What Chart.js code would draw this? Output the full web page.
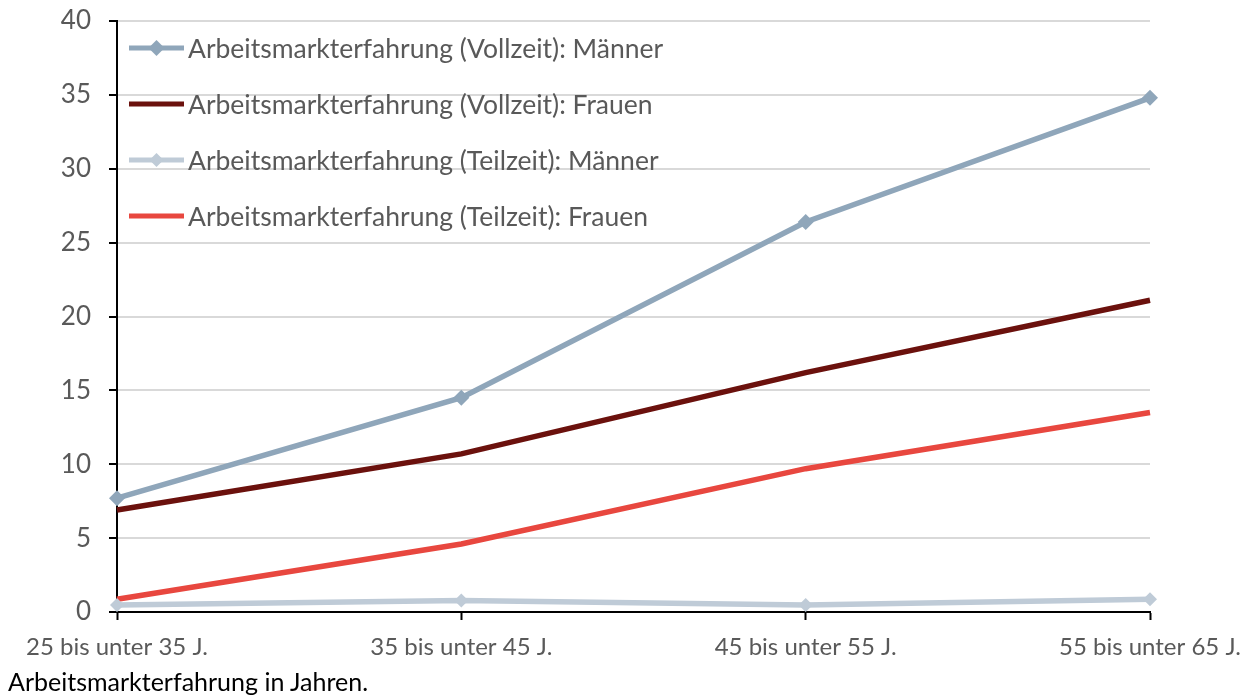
<!DOCTYPE html>
<html>
<head>
<meta charset="utf-8">
<script src="https://cdn.jsdelivr.net/npm/chart.js@4.4.1/dist/chart.umd.min.js"></script>
<style>
  html, body { margin: 0; padding: 0; background: #fff; }
  #wrap { position: relative; width: 1254px; height: 697px; }
  #caption { position: absolute; left: 8px; top: 666px; font: 25px Lato, sans-serif; color: #000; }
</style>
</head>
<body>
<div id="wrap">
  <canvas id="lineChart" width="1254" height="697"></canvas>
  <div id="caption">Arbeitsmarkterfahrung in Jahren.</div>
</div>
<script>
const categories = ['25 bis unter 35 J.', '35 bis unter 45 J.', '45 bis unter 55 J.', '55 bis unter 65 J.'];
const seriesNames = [
  'Arbeitsmarkterfahrung (Vollzeit): Männer',
  'Arbeitsmarkterfahrung (Vollzeit): Frauen',
  'Arbeitsmarkterfahrung (Teilzeit): Männer',
  'Arbeitsmarkterfahrung (Teilzeit): Frauen'
];
const vollzeitMaenner = [7.7, 14.5, 26.4, 34.8];
const vollzeitFrauen  = [6.9, 10.7, 16.2, 21.1];
const teilzeitMaenner = [0.47, 0.78, 0.47, 0.87];
const teilzeitFrauen  = [0.86, 4.6, 9.7, 13.5];
const yTicks = [0, 5, 10, 15, 20, 25, 30, 35, 40];

const FONT = 'Lato, sans-serif';
const GREY = '#595959';

// legend drawn inside the plot area, line + marker like the original
const innerLegend = {
  id: 'innerLegend',
  afterDatasetsDraw(chart) {
    const ctx = chart.ctx;
    const x0 = chart.chartArea.left + 12, x1 = x0 + 55;
    ctx.save();
    ctx.font = '26.5px ' + FONT;
    ctx.textBaseline = 'middle';
    chart.data.datasets.forEach((ds, i) => {
      const y = 48 + i * 56;
      ctx.strokeStyle = ds.borderColor;
      ctx.lineWidth = 5;
      ctx.beginPath(); ctx.moveTo(x0, y); ctx.lineTo(x1, y); ctx.stroke();
      if (ds.pointRadius > 0) {
        const r = ds.pointRadius, cx = (x0 + x1) / 2;
        ctx.fillStyle = ds.borderColor;
        ctx.beginPath();
        ctx.moveTo(cx, y - r); ctx.lineTo(cx + r, y); ctx.lineTo(cx, y + r); ctx.lineTo(cx - r, y);
        ctx.closePath(); ctx.fill();
      }
      ctx.fillStyle = GREY;
      ctx.fillText(ds.label, x1 + 4, y + 1);
    });
    ctx.restore();
  }
};

new Chart(document.getElementById('lineChart'), {
  type: 'line',
  data: {
    labels: categories,
    datasets: [
      { label: seriesNames[0], data: vollzeitMaenner, borderColor: '#8fa6ba', backgroundColor: '#8fa6ba',
        pointStyle: 'rectRot', pointRadius: 8, borderWidth: 5.5, pointBorderWidth: 0 },
      { label: seriesNames[1], data: vollzeitFrauen, borderColor: '#6b110d', backgroundColor: '#6b110d',
        pointRadius: 0, borderWidth: 5.5 },
      { label: seriesNames[2], data: teilzeitMaenner, borderColor: '#bfcbd7', backgroundColor: '#bfcbd7',
        pointStyle: 'rectRot', pointRadius: 7, borderWidth: 5.5, pointBorderWidth: 0 },
      { label: seriesNames[3], data: teilzeitFrauen, borderColor: '#e8473f', backgroundColor: '#e8473f',
        pointRadius: 0, borderWidth: 5.5 }
    ]
  },
  options: {
    responsive: false, animation: false,
    layout: { padding: { top: 21, right: 104, left: 0, bottom: 0 } },
    plugins: { legend: { display: false }, tooltip: { enabled: false } },
    elements: { line: { tension: 0, borderCapStyle: 'butt' } },
    scales: {
      x: {
        offset: false,
        grid: { drawOnChartArea: false, drawTicks: true, tickLength: 8, tickColor: '#000', tickWidth: 2 },
        border: { display: true, color: '#000', width: 2 },
        ticks: { font: { size: 24, family: FONT }, color: GREY, padding: 13, maxRotation: 0, autoSkip: false },
        afterFit: s => { s.height = 85; s.paddingLeft = 0; s.paddingRight = 0; }
      },
      y: {
        min: 0, max: 40,
        afterBuildTicks: s => { s.ticks = yTicks.map(v => ({ value: v })); },
        grid: { color: '#d9d9d9', lineWidth: 2, tickLength: 8, tickColor: '#000', tickWidth: 2 },
        border: { display: true, color: '#000', width: 2 },
        ticks: { font: { size: 26, family: FONT }, color: GREY, padding: 18 },
        afterFit: s => { s.width = 117; s.paddingTop = 0; s.paddingBottom = 0; }
      }
    }
  },
  plugins: [innerLegend]
});
</script>
</body>
</html>
